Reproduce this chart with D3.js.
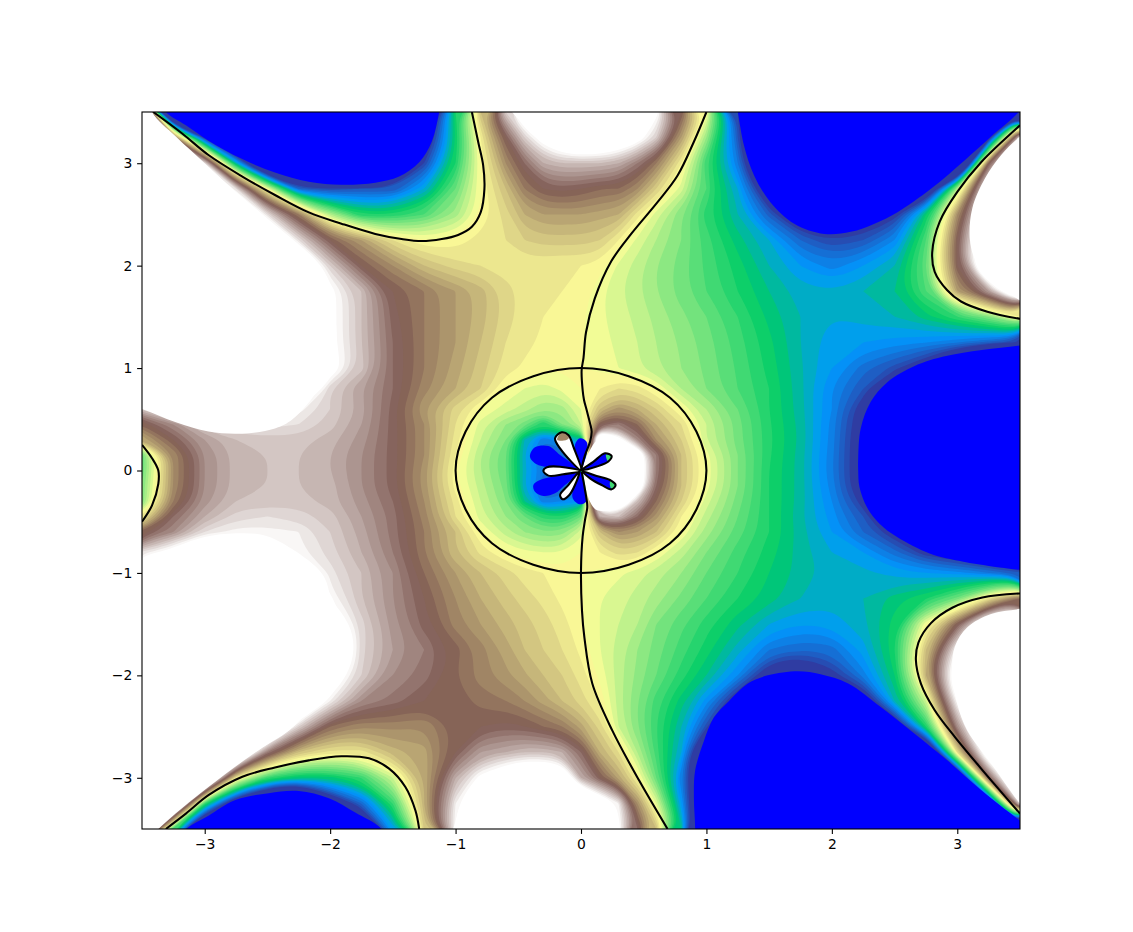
<!DOCTYPE html>
<html>
<head>
<meta charset="utf-8">
<script src="https://cdn.jsdelivr.net/npm/d3@7"></script>
<style>
  html, body { margin: 0; background: #fff; }
  svg { display: block; }
  .tick text { font-family: "DejaVu Sans", sans-serif; font-size: 13.9px; fill: #000; }
</style>
</head>
<body>
<div id="plot"></div>
<script>
// grid of readings, finer around the origin
var xs = [-3.5,-3.25,-3,-2.75,-2.5,-2.25,-2,-1.75,-1.5,-1.25,-1,-0.8,-0.6,-0.45,-0.3,-0.15,0,0.15,0.3,0.45,0.6,0.8,1,1.25,1.5,1.75,2,2.25,2.5,2.75,3,3.25,3.5];
var ys = [3.5,3.25,3,2.75,2.5,2.25,2,1.75,1.5,1.25,1,0.8,0.6,0.45,0.3,0.15,0,-0.15,-0.3,-0.45,-0.6,-0.8,-1,-1.25,-1.5,-1.75,-2,-2.25,-2.5,-2.75,-3,-3.25,-3.5];

// band number: 0 = blue edge, 20 = pale yellow, 40 = white edge
var levelRows = [
  [50,-25,-35,-35,-35,-35,-35,-35, -35,-6,11,24,37,45,50,50, 50,50,50,46,41,30,20,1, -15,-30,-35,-35,-35,-35,-35,-25,0],
  [50,30,0,-15,-35,-35,-35,-35, -30,-4,10,21,30,37,42,46, 48,47,45,42,37,26,16,2, -15,-30,-35,-35,-35,-35,-30,-2,38],
  [50,50,38,8,-15,-35,-35,-35, -25,1,11,20,27,31,35,36, 36,36,35,32,28,21,12,4, -12,-28,-35,-35,-35,-30,-20,30,50],
  [50,50,50,38,20,3,1,2, 2,7,14,20,24,28,30,30.5, 30,29,29,27,23,18.5,13,7, -4,-25,-35,-35,-12,-6,17,42,50],
  [50,50,50,50,38,28,17,11, 11,13,16.5,20,22.5,25,26,26, 26,25.5,25,21.5,18.5,15,11.5,8, 2.5,-4,-5,-3,0,10,27,44,50],
  [50,50,50,50,50,38,30,26, 22,20,20.3,21.5,22,23,23.5,23.5, 23.5,23,21,18.7,17,15,12.5,9.5, 7,3,1,2,5,13,30,48,50],
  [50,50,50,50,50,50,37,30, 27,24,22.5,22,21.5,21.3,21.2,21, 21,20.5,18.8,17.5,16,14.5,12.7,10.5, 8,6,4.5,6,8,14,30,50,50],
  [50,50,50,50,50,50,41,36, 30,28,26,24.5,22.5,21.5,21.2,21, 20.8,19.3,18.2,17.2,16,14.5,13,11, 9,7.5,7,8,9,13,26,34,50],
  [50,50,50,50,50,50,41,36, 30.5,28,26,24.5,22.5,21.5,21,20.7, 20.2,19.2,18.5,17.7,16.7,15.3,14,12, 9.7,8,7,7.5,8,9.5,12,15,21],
  [50,50,50,50,50,50,41,36, 31,28,26,24,22,21.3,20.8,20.4, 20.1,19.5,18.7,18,17,15.8,14.5,12.5, 10.3,8,6.3,6,5.5,5,4,2.5,0.5],
  [50,50,50,50,50,50,42,36.5, 31,28,25.5,23.5,21.5,20.8,20.3,20.1, 20,19.7,19,18.2,17.2,16,14.7,12.8, 10.6,8.2,6,3.5,1.5,-2,-10,-25,-25],
  [50,50,50,50,50,50,37,34, 31,27.5,25,23,20,19,18.5,19.3, 20,21,22,21.5,20,17,15,13, 11,8.3,5,2,-4,-35,-35,-35,-35],
  [36,42,50,50,50,39.5,37,34.5, 30.5,26,22.5,20,18.5,17.5,16,16.5, 19,24,26.5,25,23,20,17,14, 11,8.4,5,-0.5,-10,-35,-35,-35,-35],
  [29,33,37,38.5,38.5,38,36.5,34, 30.5,27,22,18.5,16,14.5,11,15, 18,30,32,29,25,22,18,14.5, 11.2,8.6,4.6,-1,-15,-35,-35,-35,-35],
  [25,30,34,36,36.5,36.5,35.5,33.5, 30.5,27,21.5,18,15,8,4,6, 8,50,42,33,27,23,18,14.5, 11.3,8.7,4.5,-1.5,-20,-35,-35,-35,-35],
  [14,27,33,35.5,36,36,35,33, 30.5,27,21,17,14,7,3,3, 3,50,50,45,32,24,19.5,15, 11.2,8.5,4.3,-1.5,-35,-35,-35,-35,-35],
  [14,27,33,35.5,36,36,35,33, 30.5,26.5,20.3,17,14,7.5,4,4, 10,50,50,45,32,24,19.7,15, 11,8.5,4.2,-1.5,-35,-35,-35,-35,-35],
  [15,27,33,35.5,36,36,35.5,33, 30.5,26.5,20.5,17.5,14.5,7,3,3, 3,50,50,45,31,24,19.5,15, 11,8.5,4.5,-1.5,-35,-35,-35,-35,-35],
  [15,28,33.5,36,36.5,36.5,35.5,33.5, 31,27,21.5,18,15,9,4,5, 6,50,47,36,29,23,18.5,14.5, 11,8.5,5,0,-15,-35,-35,-35,-35],
  [21,31,35,37.5,38,37.5,36.5,34, 31.5,27.5,22,18.5,16,14,11.5,11, 14,35,36,31,26.5,21,17.5,14, 11,8.3,5.5,2,-4,-35,-35,-35,-35],
  [29,33,38,39.5,39.5,39,37,34.5, 31.5,28,24,20,17.5,16,15,15.5, 18.5,24,27,26,24,20,16.5,13.5, 11,8.5,6,3,-0.5,-6,-30,-35,-35],
  [38,42,50,50,50,39.5,37.5,35, 32,28,24,21.7,20,19.3,19,19, 20,21,22.5,22,20,17.5,15,12.5, 10.5,8.5,7,6,3.5,0,-2,-4,-8],
  [50,50,50,50,50,50,38.5,36, 33,29,26,24,22.5,21.5,21,20.5, 20,19.7,19.2,18.5,17.5,16,14,12, 10,8.6,7.5,7.3,6.5,6,5.5,4,2],
  [50,50,50,50,50,50,40,36, 33,30,27,25,23.5,22.5,21.7,20.7, 20.2,19,18.5,17.5,16.5,14.7,13,11, 9.5,8,7.5,8,9.5,11,14.5,22,29],
  [50,50,50,50,50,50,45,37.5, 33.5,30.5,27.5,26,24.5,23.5,22.5,21.5, 20.1,19,18,17,15,13.3,11.5,9.3, 7,6,6.3,7.7,10.5,20,30,46,50],
  [50,50,50,50,50,50,50,37.5, 34,32,29.5,27.5,25.5,24,23,22, 20.7,19,17.5,16,14.5,12.5,10.5,7.5, 4,3,3.5,6.5,11,24,40,50,50],
  [50,50,50,50,50,50,44,37, 33,31.5,29,27.5,26.3,25.2,24,23, 21.5,19.7,17.5,15.7,14,11.5,9,5, -1.5,-4,0,4.5,10,25,46,50,50],
  [50,50,50,50,50,50,39,33, 31.5,30,29.7,28.5,28,27,25.5,24, 22.5,20.8,17.5,15,12.5,9.5,5.5,-2, -8,-12,-6,-3,8,18,40,50,50],
  [50,50,50,50,50,37,29,27, 27.5,27,29.5,30,30.5,30,29,28, 25.5,22.5,18,15,12,8,1.5,-10, -35,-35,-35,-10,-4,11,33,50,50],
  [50,50,50,50,32,24,21.5,21.5, 24.5,25.5,30,34,35,36,36,35, 31,25,22,17,12.5,7,-10,-35, -35,-35,-35,-35,-35,-12,22,45,50],
  [50,50,50,21.5,12,9,9.5,12, 18,25,35,41,45,47,47,45, 35,30,25.5,20.5,14,4,-8,-30, -35,-35,-35,-35,-35,-35,-10,30,50],
  [50,50,12,-5,-15,-20,-4,3, 12,25,39,50,50,50,50,50, 50,45,39,27,19,6,-10,-30, -35,-35,-35,-35,-35,-35,-25,-4,38],
  [50,12,-15,-25,-30,-30,-25,-8, 6,23,40,50,50,50,50,50, 50,50,41,31,24,9,-12,-30, -35,-35,-35,-35,-35,-35,-35,-30,-5]
];

var tickValues = [-3,-2,-1,0,1,2,3];
var bandCount = 40;

// black contour lines
var lineUpperLeft = [[-3.41,3.5],[-3.18,3.29],[-2.97,3.08],[-2.70,2.87],[-2.44,2.69],[-2.17,2.52],[-1.91,2.41],[-1.64,2.31],[-1.43,2.26],[-1.27,2.24],[-1.11,2.26],[-0.98,2.30],[-0.87,2.38],[-0.80,2.52],[-0.77,2.75],[-0.78,2.98],[-0.82,3.21],[-0.87,3.5]];
var lineLowerLeft = [[-3.31,-3.5],[-3.15,-3.35],[-2.97,-3.17],[-2.70,-2.99],[-2.44,-2.90],[-2.17,-2.83],[-1.91,-2.79],[-1.69,-2.81],[-1.53,-2.91],[-1.40,-3.09],[-1.32,-3.32],[-1.29,-3.5]];
var lineUpperRight = [[3.5,3.37],[3.19,3.01],[3.0,2.72],[2.86,2.43],[2.80,2.13],[2.82,1.94],[2.92,1.76],[3.03,1.65],[3.24,1.55],[3.5,1.48]];
var lineLowerRight = [[3.5,-1.20],[3.2,-1.24],[2.96,-1.34],[2.79,-1.49],[2.69,-1.68],[2.67,-1.85],[2.71,-2.08],[2.82,-2.34],[2.98,-2.6],[3.19,-2.91],[3.5,-3.35]];
var lineFarLeft = [[-3.5,0.25],[-3.42,0.12],[-3.37,0.0],[-3.37,-0.13],[-3.42,-0.34],[-3.5,-0.5]];
var lineTop = [[1.0,3.5],[0.90,3.21],[0.77,2.88],[0.61,2.62],[0.40,2.31],[0.24,2.04],[0.11,1.68],[0.04,1.35],[0.02,1.1],[0.005,0.98],[0.013,0.786],[0.024,0.688],[0.045,0.59],[0.072,0.46],[0.085,0.38],[0.072,0.28],[0.032,0.15],[0,0]];
var lineBottom = [[0.005,-0.011],[0.032,-0.19],[0.05,-0.353],[0.032,-0.483],[0.013,-0.646],[0.0,-0.976],[0.008,-1.37],[0.027,-1.63],[0.09,-2.08],[0.25,-2.54],[0.465,-3.03],[0.69,-3.5]];
var unitRing = [[1,0],[0.92,0.38],[0.71,0.71],[0.38,0.92],[0,1],[-0.38,0.92],[-0.71,0.71],[-0.92,0.38],[-1,0],[-0.92,-0.38],[-0.71,-0.71],[-0.38,-0.92],[0,-1],[0.38,-0.92],[0.71,-0.71],[0.92,-0.38]];

// outlines of the flat blue areas
var blueTopLeft = [[-3.31,3.5],[-3.15,3.37],[-2.97,3.22],[-2.70,3.04],[-2.44,2.91],[-2.17,2.82],[-1.91,2.79],[-1.64,2.81],[-1.45,2.87],[-1.29,3.01],[-1.19,3.21],[-1.13,3.5],[-1.1,3.7],[-3.4,3.7]];
var blueTopRight = [[1.25,3.5],[1.30,3.17],[1.38,2.88],[1.51,2.62],[1.70,2.41],[1.94,2.31],[2.15,2.33],[2.34,2.41],[2.52,2.52],[2.79,2.75],[3.06,3.03],[3.27,3.26],[3.49,3.5],[3.6,3.7],[1.22,3.7]];
var blueRight = [[3.5,1.22],[2.92,1.12],[2.66,1.02],[2.44,0.86],[2.31,0.67],[2.23,0.41],[2.21,0.12],[2.21,0],[2.22,-0.16],[2.28,-0.36],[2.38,-0.52],[2.52,-0.65],[2.78,-0.81],[3.05,-0.89],[3.5,-0.97],[3.8,-1.0],[3.8,1.25]];
var blueBottomRight = [[0.91,-3.5],[0.90,-3.19],[0.91,-2.93],[0.98,-2.64],[1.06,-2.41],[1.18,-2.25],[1.33,-2.08],[1.49,-2.0],[1.73,-1.96],[1.91,-1.99],[2.13,-2.08],[2.39,-2.31],[2.66,-2.57],[2.92,-2.83],[3.19,-3.12],[3.5,-3.42],[3.7,-3.6],[3.7,-3.8],[0.9,-3.8]];
var blueBottomLeft = [[-3.15,-3.5],[-2.97,-3.37],[-2.76,-3.22],[-2.49,-3.15],[-2.25,-3.13],[-2.01,-3.2],[-1.8,-3.34],[-1.59,-3.5],[-1.5,-3.7],[-3.3,-3.7]];

// outlines of the flat white areas
var whiteLeftUpper = [[-3.42,3.5],[-3.23,3.26],[-3.0,3.0],[-2.78,2.75],[-2.54,2.5],[-2.32,2.25],[-2.1,2.0],[-1.99,1.74],[-1.95,1.38],[-1.96,1.16],[-2.09,0.8],[-2.30,0.5],[-2.44,0.41],[-2.70,0.36],[-2.97,0.38],[-3.23,0.47],[-3.5,0.6],[-3.8,0.7],[-3.8,3.8],[-3.5,3.8]];
var whiteLeftLower = [[-3.5,-0.86],[-3.23,-0.76],[-2.97,-0.67],[-2.70,-0.64],[-2.44,-0.68],[-2.17,-0.91],[-1.96,-1.3],[-1.89,-1.63],[-1.91,-1.82],[-1.99,-2.08],[-2.17,-2.34],[-2.33,-2.54],[-2.57,-2.73],[-2.97,-3.09],[-3.37,-3.5],[-3.6,-3.8],[-3.8,-3.8],[-3.8,-0.95]];
var whiteTop = [[-0.55,3.5],[-0.31,3.24],[0,3.12],[0.16,3.13],[0.35,3.22],[0.5,3.35],[0.61,3.5],[0.7,3.7],[-0.65,3.7]];
var whiteUpperRight = [[3.5,3.26],[3.35,3.08],[3.22,2.85],[3.12,2.56],[3.1,2.26],[3.15,2.04],[3.3,1.84],[3.5,1.66],[3.7,1.55],[3.7,3.4]];
var whiteLowerRight = [[3.5,-1.35],[3.27,-1.40],[3.08,-1.53],[2.98,-1.72],[2.96,-1.95],[3.0,-2.28],[3.08,-2.54],[3.27,-2.86],[3.5,-3.25],[3.7,-3.5],[3.7,-1.3]];
var whiteBottom = [[-1.02,-3.5],[-0.95,-3.25],[-0.79,-3.09],[-0.58,-3.04],[-0.31,-3.08],[0,-3.12],[0.15,-3.25],[0.31,-3.5],[0.4,-3.7],[-1.1,-3.7]];

// petals at the origin
var patchRightWhite = [[0.005,0.011],[0.072,0.2],[0.125,0.291],[0.205,0.307],[0.258,0.2],[0.311,0.151],[0.431,0.129],[0.476,0.005],[0.444,-0.142],[0.351,-0.304],[0.271,-0.379],[0.125,-0.386],[0.072,-0.304],[0.045,-0.207],[0.013,-0.011]];
var patchBlueUpLeft = [[-0.407,0.135],[-0.367,0.226],[-0.26,0.239],[-0.167,0.151],[-0.021,0.011],[-0.167,0.037],[-0.287,0.037],[-0.353,0.06]];
var patchBlueLowLeft = [[-0.38,-0.142],[-0.327,-0.093],[-0.194,-0.054],[-0.021,-0.021],[-0.128,-0.142],[-0.207,-0.223],[-0.30,-0.249],[-0.367,-0.207]];
var patchBlueTop = [[-0.048,0.249],[-0.008,0.314],[0.045,0.281],[0.05,0.2],[0.019,0.054],[0,0.01],[-0.035,0.151]];
var patchBlueBottom = [[-0.061,-0.174],[-0.003,-0.011],[0.032,-0.207],[0.04,-0.304],[-0.013,-0.33],[-0.066,-0.272]];
var loopTopLeft = [[0,0.005],[-0.167,0.216],[-0.207,0.314],[-0.154,0.373],[-0.101,0.347],[-0.061,0.233]];
var loopTipTan = [[-0.19,0.30],[-0.154,0.373],[-0.101,0.347],[-0.10,0.31],[-0.15,0.29]];
var loopRightUp = [[0.005,0.004],[0.098,0.084],[0.191,0.168],[0.244,0.142],[0.218,0.087],[0.125,0.038]];
var loopRightUpTip = [[0.20,0.155],[0.244,0.142],[0.218,0.087],[0.205,0.11]];
var loopLeft = [[-0.008,-0.005],[-0.167,0.037],[-0.274,0.031],[-0.300,-0.005],[-0.260,-0.050],[-0.141,-0.037]];
var loopLowLeft = [[-0.013,-0.011],[-0.101,-0.142],[-0.167,-0.239],[-0.146,-0.281],[-0.093,-0.239],[-0.048,-0.142]];
var loopRightLow = [[0.013,-0.011],[0.125,-0.054],[0.231,-0.093],[0.276,-0.142],[0.244,-0.184],[0.165,-0.142],[0.072,-0.076]];
var loopRightLowTip = [[0.235,-0.10],[0.276,-0.142],[0.244,-0.184],[0.23,-0.14]];

var svgWidth = 1133, svgHeight = 932;
var margin = {top: 112, right: 113, bottom: 103, left: 142};
var chartWidth = svgWidth - margin.left - margin.right;
var chartHeight = svgHeight - margin.top - margin.bottom;

var xScale = d3.scaleLinear().domain([-3.5, 3.5]).range([0, chartWidth]);
var yScale = d3.scaleLinear().domain([-3.5, 3.5]).range([chartHeight, 0]);

// contour output is in grid index space, these take it back to data values
var colToX = d3.scaleLinear().domain(d3.range(xs.length)).range(xs);
var rowToY = d3.scaleLinear().domain(d3.range(ys.length)).range(ys);

// the terrain map
var terrain = d3.scaleLinear()
  .domain([0, 0.15, 0.25, 0.5, 0.75, 1])
  .range(["rgb(51,51,153)", "rgb(0,153,255)", "rgb(0,204,102)", "rgb(255,255,153)", "rgb(128,92,84)", "rgb(255,255,255)"]);

var BLUE = "rgb(0,0,255)";

var svg = d3.select("#plot").append("svg")
  .attr("width", svgWidth)
  .attr("height", svgHeight);

svg.append("clipPath").attr("id", "plotClip")
  .append("rect").attr("width", chartWidth).attr("height", chartHeight);

var chartGroup = svg.append("g")
  .attr("transform", `translate(${margin.left}, ${margin.top})`);

var plotArea = chartGroup.append("g").attr("clip-path", "url(#plotClip)");

// lowest band goes under everything, the flat blue comes from the outlines
plotArea.append("rect")
  .attr("width", chartWidth).attr("height", chartHeight)
  .attr("fill", terrain(0.5 / bandCount));

var flatLevels = levelRows.flat();
var thresholds = d3.range(1, bandCount + 1);
var contours = d3.contours().size([xs.length, ys.length]).thresholds(thresholds)(flatLevels);

var ringLine = d3.line()
  .x(p => xScale(colToX(p[0] - 0.5)))
  .y(p => yScale(rowToY(p[1] - 0.5)))
  .curve(d3.curveBasisClosed);

plotArea.selectAll(null)
  .data(contours)
  .enter()
  .append("path")
  .attr("d", c => c.coordinates.map(poly => poly.map(ring => ringLine(ring.slice(0, -1))).join("")).join(""))
  .attr("fill-rule", "evenodd")
  .attr("fill", c => c.value >= bandCount ? "#fff" : terrain((c.value + 0.5) / bandCount));

var blobLine = d3.line().x(p => xScale(p[0])).y(p => yScale(p[1])).curve(d3.curveCatmullRomClosed);
var openLine = d3.line().x(p => xScale(p[0])).y(p => yScale(p[1])).curve(d3.curveCatmullRom);

function addPatch(points, fill) {
  plotArea.append("path").attr("d", blobLine(points)).attr("fill", fill);
}

[blueTopLeft, blueTopRight, blueRight, blueBottomRight, blueBottomLeft].forEach(pts => addPatch(pts, BLUE));
[whiteLeftUpper, whiteLeftLower, whiteTop, whiteUpperRight, whiteLowerRight, whiteBottom].forEach(pts => addPatch(pts, "#fff"));

addPatch(patchRightWhite, "#fff");
addPatch(patchBlueUpLeft, BLUE);
addPatch(patchBlueLowLeft, BLUE);
addPatch(patchBlueTop, BLUE);
addPatch(patchBlueBottom, BLUE);
addPatch(loopTopLeft, "#fff");
addPatch(loopTipTan, terrain(27.5 / bandCount));
addPatch(loopLeft, "#fff");
addPatch(loopLowLeft, "#fff");
addPatch(loopRightUp, BLUE);
addPatch(loopRightUpTip, terrain(12.5 / bandCount));
addPatch(loopRightLow, BLUE);
addPatch(loopRightLowTip, terrain(12.5 / bandCount));

[lineUpperLeft, lineLowerLeft, lineUpperRight, lineLowerRight, lineFarLeft, lineTop, lineBottom].forEach(function(pts) {
  plotArea.append("path").attr("d", openLine(pts)).attr("fill", "none").attr("stroke", "#000").attr("stroke-width", 2.08);
});
[unitRing, loopTopLeft, loopRightUp, loopLeft, loopLowLeft, loopRightLow].forEach(function(pts) {
  plotArea.append("path").attr("d", blobLine(pts)).attr("fill", "none").attr("stroke", "#000").attr("stroke-width", 2.08);
});

// axes
var xAxis = d3.axisBottom(xScale).tickValues(tickValues).tickFormat(d3.format("d")).tickSize(4.9).tickPadding(4.8);
var yAxis = d3.axisLeft(yScale).tickValues(tickValues).tickFormat(d3.format("d")).tickSize(4.9).tickPadding(4.8);

var xGroup = chartGroup.append("g").attr("transform", `translate(0, ${chartHeight})`).call(xAxis);
var yGroup = chartGroup.append("g").call(yAxis);
xGroup.select(".domain").remove();
yGroup.select(".domain").remove();
chartGroup.selectAll(".tick line").attr("stroke", "#000").attr("stroke-width", 1.1);

chartGroup.append("rect")
  .attr("width", chartWidth).attr("height", chartHeight)
  .attr("fill", "none").attr("stroke", "#000").attr("stroke-width", 1.1);
</script>
</body>
</html>
